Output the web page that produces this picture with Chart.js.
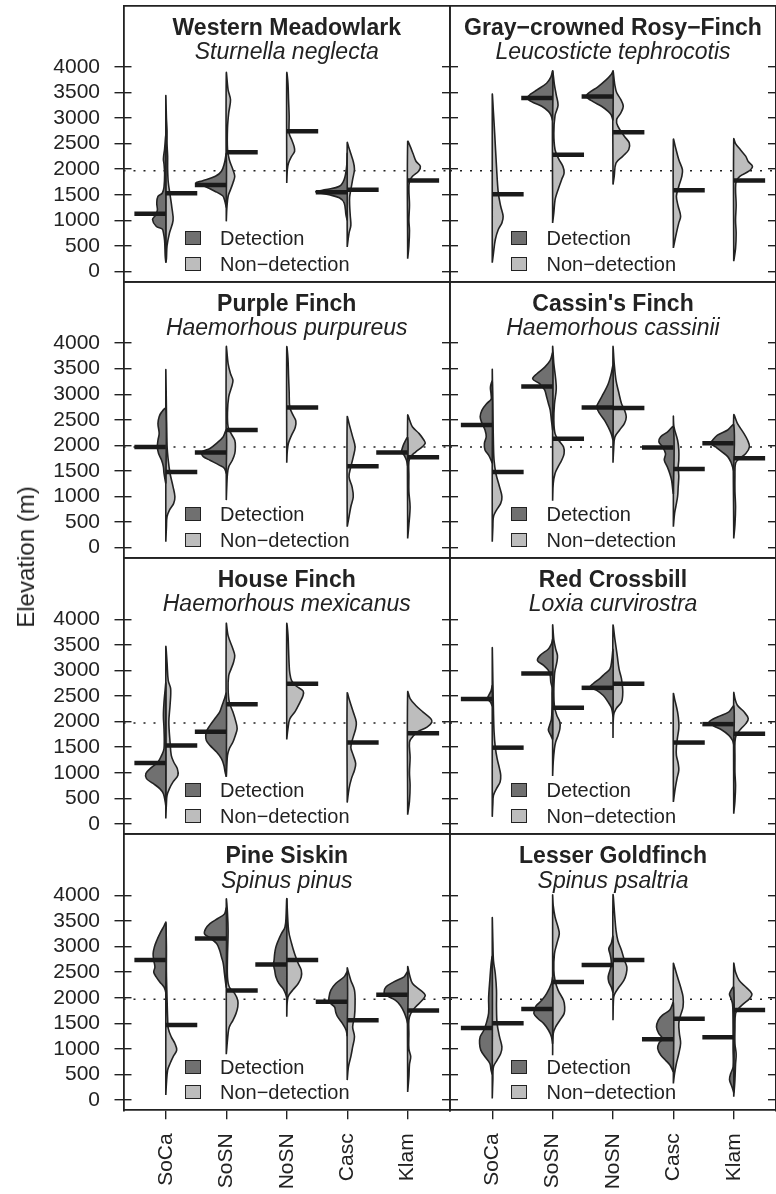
<!DOCTYPE html>
<html>
<head>
<meta charset="utf-8">
<script src="https://cdn.jsdelivr.net/npm/chart.js"></script>
<style>
  html, body { margin: 0; padding: 0; background: #fff; }
  #fig { position: relative; width: 776px; height: 1194px; overflow: hidden;
         font-family: 'Liberation Sans', Arial, Helvetica, sans-serif; color: #222; }
  #fig canvas { position: absolute; left: 0; top: 0; }
  .txt { position: absolute; white-space: nowrap; }
  .ttl { font-weight: bold; font-size: 23px; line-height: 23px; text-align: center; }
  .sub { font-style: italic; font-size: 23px; line-height: 23px; text-align: center; }
  .leg { font-size: 20px; line-height: 20px; }
  .sw  { position: absolute; width: 16px; height: 14px; box-sizing: border-box; border: 1.5px solid #222; }
  #ytitle { font-size: 24px; line-height: 24px; transform: translate(-50%, -50%) rotate(-90deg); }
</style>
</head>
<body>
<div id="fig"></div>
<script>
// ---- data -------------------------------------------------------------
const sites = ['SoCa', 'SoSN', 'NoSN', 'Casc', 'Klam'];
const commonNames = ['Western Meadowlark', 'Gray\u2212crowned Rosy\u2212Finch', 'Purple Finch', "Cassin's Finch",
                     'House Finch', 'Red Crossbill', 'Pine Siskin', 'Lesser Goldfinch'];
const latinNames = ['Sturnella neglecta', 'Leucosticte tephrocotis', 'Haemorhous purpureus', 'Haemorhous cassinii',
                    'Haemorhous mexicanus', 'Loxia curvirostra', 'Spinus pinus', 'Spinus psaltria'];
const elevationTicks = [0, 500, 1000, 1500, 2000, 2500, 3000, 3500, 4000];
const referenceElevation = 1970;
const legendLabels = ['Detection', 'Non\u2212detection'];

// median elevation (m) per site, detections / non-detections
const detectionMedians = [
  [1130, 1690, null, 1550, null],
  [null, 3390, 3420, null, null],
  [1970, 1860, null, null, 1860],
  [2400, 3150, 2740, 1960, 2040],
  [1190, 1800, null, null, null],
  [2440, 2940, 2660, null, 1950],
  [2740, 3160, 2650, 1920, 2060],
  [1410, 1780, 2640, 1190, 1230]
];
const nonDetectionMedians = [
  [1530, 2330, 2740, 1600, 1780],
  [1510, 2280, 2720, 1590, 1780],
  [1480, 2300, 2740, 1590, 1770],
  [1480, 2130, 2730, 1540, 1750],
  [1530, 2340, 2740, 1590, 1770],
  [1490, 2270, 2740, 1590, 1760],
  [1470, 2140, 2740, 1560, 1750],
  [1500, 2310, 2740, 1590, 1760]
];

// density profiles: [elevation (m), density] per site (SoCa, SoSN, NoSN, Casc, Klam)
const wemeDet = [
  [[180,0],[300,1],[600,2],[760,4],[830,6],[885,16],[1015,22],[1100,17],[1200,14],[1340,15],[1470,13],[1530,6],[1650,3],[1900,2],[2100,3],[2200,4],[2400,2],[2650,0]],
  [[1250,0],[1400,3],[1480,6],[1570,19],[1665,36],[1730,50],[1770,40],[1860,18],[1960,8],[2120,3],[2300,0]],
  null,
  [[1000,0],[1100,2],[1340,5],[1440,13],[1500,30],[1555,52],[1600,35],[1665,13],[1800,5],[2050,1],[2300,0]],
  null
];
const wemeNon = [
  [[170,0],[250,1],[500,2],[750,6],[1000,12],[1250,10],[1500,7],[1750,4],[2000,3],[2250,3],[2500,2],[2750,2],[3000,1],[3420,0]],
  [[980,0],[1250,1],[1470,3],[1600,7],[1730,11],[1860,14],[1990,11],[2185,5],[2400,2],[2800,2],[3100,4],[3356,7],[3550,3],[3876,0]],
  [[1730,0],[1990,1],[2120,3],[2250,8],[2350,13],[2450,12],[2580,8],[2700,4],[3030,4],[3350,3],[3680,2],[3880,0]],
  [[480,0],[750,3],[900,6],[1100,5],[1300,4],[1450,4],[1600,6],[1800,9],[2000,12],[2150,10],[2300,6],[2450,2],[2520,0]],
  [[250,0],[500,2],[800,3],[1000,2],[1300,3],[1600,2],[1760,3],[1860,8],[1960,18],[2055,21],[2150,14],[2300,9],[2450,4],[2540,0]]
];
const gcrfDet = [
  null,
  [[2950,0],[3060,3],[3130,7],[3230,18],[3320,35],[3400,42],[3470,36],[3550,26],[3680,10],[3800,3],[3910,0]],
  [[2950,0],[3060,3],[3130,8],[3230,19],[3320,33],[3420,44],[3490,40],[3610,25],[3750,11],[3850,3],[3910,0]],
  null,
  null
];
const gcrfNon = [
  [[170,0],[360,2],[620,5],[820,10],[950,16],[1080,18],[1275,14],[1535,10],[2055,7],[2700,4],[3100,2],[3450,0]],
  [[950,0],[1150,2],[1400,4],[1530,7],[1665,11],[1800,15],[1925,19],[2055,17],[2200,10],[2380,4],[2700,2],[3050,4],[3250,9],[3450,6],[3650,3],[3910,0]],
  [[1700,0],[1860,2],[2120,5],[2250,16],[2380,26],[2510,27],[2640,19],[2840,8],[2970,6],[3100,13],[3230,17],[3360,13],[3500,6],[3650,3],[3910,0]],
  [[460,0],[750,5],[950,9],[1080,12],[1275,8],[1470,5],[1665,9],[1860,14],[1990,15],[2185,9],[2450,3],[2580,0]],
  [[200,0],[450,3],[750,4],[1000,3],[1300,4],[1600,3],[1760,4],[1860,10],[1960,25],[2055,31],[2150,24],[2250,20],[2380,11],[2500,3],[2590,0]]
];
const pufiDet = [
  [[1250,0],[1450,3],[1580,4],[1710,7],[1840,12],[1970,14],[2100,13],[2230,11],[2430,13],[2560,11],[2650,7],[2720,0]],
  [[1450,0],[1550,3],[1610,11],[1710,27],[1780,38],[1870,41],[1940,27],[2040,16],[2170,5],[2300,0]],
  null,
  null,
  [[1600,0],[1710,2],[1810,6],[1880,10],[1940,9],[2040,6],[2150,0]]
];
const pufiNon = [
  [[117,0],[400,1],[605,2],[735,6],[865,13],[995,15],[1190,12],[1450,7],[1710,4],[2000,2],[2700,1],[3454,0]],
  [[930,0],[1250,1],[1450,2],[1580,4],[1710,10],[1840,14],[1970,15],[2100,14],[2230,8],[2360,3],[2650,2],[2950,4],[3150,9],[3270,11],[3400,7],[3600,3],[3920,0]],
  [[1660,0],[1900,1],[2050,3],[2200,8],[2350,14],[2480,15],[2600,10],[2750,5],[3050,4],[3350,3],[3700,2],[3920,0]],
  [[410,0],[540,2],[800,6],[995,10],[1190,8],[1385,3],[1580,6],[1776,10],[1971,13],[2166,9],[2426,3],[2556,0]],
  [[180,0],[450,2],[800,4],[1100,2],[1400,2],[1680,2],[1780,5],[1870,13],[1970,24],[2040,29],[2100,27],[2230,19],[2360,8],[2500,3],[2590,0]]
];
const cafiDet = [
  [[1650,0],[1710,2],[1810,6],[1910,12],[2040,13],[2170,10],[2300,12],[2430,17],[2560,20],[2690,17],[2820,9],[2900,2],[3000,2],[3140,3],[3250,0]],
  [[2300,0],[2490,2],[2690,4],[2820,7],[2950,10],[3080,13],[3150,18],[3210,22],[3300,33],[3400,26],[3530,13],[3660,4],[3800,0]],
  [[2100,0],[2230,3],[2360,8],[2490,14],[2620,22],[2750,27],[2880,22],[3010,16],[3200,8],[3400,3],[3550,0]],
  [[1050,0],[1130,1],[1320,3],[1450,6],[1580,10],[1710,15],[1840,13],[1970,18],[2070,24],[2170,21],[2260,10],[2360,0]],
  [[1500,0],[1580,2],[1680,5],[1780,10],[1870,19],[1970,30],[2040,38],[2100,35],[2200,27],[2300,10],[2400,0]]
];
const cafiNon = [
  [[117,0],[400,1],[605,2],[735,7],[865,14],[995,16],[1190,12],[1450,6],[1710,3],[2000,2],[2700,1],[3460,0]],
  [[917,0],[1250,1],[1450,4],[1580,9],[1710,15],[1840,19],[1970,18],[2100,10],[2230,4],[2500,2],[2800,3],[3100,6],[3300,5],[3600,2],[3920,0]],
  [[1660,0],[1900,1],[2160,3],[2300,11],[2430,19],[2560,22],[2690,19],[2820,14],[3010,10],[3270,5],[3600,2],[3920,0]],
  [[410,0],[670,2],[800,4],[1000,7],[1190,8],[1390,9],[1580,8],[1710,9],[1910,9],[2100,7],[2360,1],[2560,0]],
  [[180,0],[450,2],[800,3],[1100,2],[1400,2],[1650,3],[1740,9],[1840,20],[1970,26],[2100,23],[2230,17],[2430,6],[2590,0]]
];
const hofiDet = [
  [[350,0],[430,1],[590,4],[690,10],[790,21],[885,32],[985,33],[1080,26],[1210,13],[1340,7],[1470,3],[1860,3],[2120,4],[2380,3],[2640,1],[2750,0]],
  [[920,0],[1015,2],[1145,4],[1275,8],[1405,16],[1535,27],[1630,33],[1730,34],[1830,32],[1925,27],[2055,19],[2185,11],[2315,7],[2445,3],[2550,0]],
  null,
  null,
  null
];
const hofiNon = [
  [[104,0],[400,1],[560,2],[690,6],[820,12],[950,20],[1080,19],[1210,13],[1340,9],[1600,7],[1990,5],[2320,7],[2640,8],[2800,4],[3160,2],[3454,0]],
  [[920,0],[1340,2],[1470,5],[1600,11],[1730,15],[1860,18],[1990,16],[2185,11],[2380,5],[2640,3],[2900,4],[3030,8],[3160,12],[3290,14],[3420,11],[3680,3],[3910,0]],
  [[1650,0],[1860,2],[2050,5],[2200,14],[2380,22],[2510,27],[2600,27],[2700,15],[2800,8],[2950,5],[3100,4],[3400,3],[3700,2],[3910,0]],
  [[416,0],[690,3],[885,7],[1050,12],[1180,14],[1340,10],[1500,6],[1700,10],[1860,14],[1990,15],[2185,10],[2445,3],[2556,0]],
  [[180,0],[450,3],[750,4],[1000,3],[1300,4],[1600,3],[1700,8],[1800,16],[1890,32],[1990,40],[2060,38],[2190,25],[2320,13],[2450,4],[2580,0]]
];
const recrDet = [
  [[2300,0],[2380,3],[2445,8],[2510,6],[2600,2],[2700,0]],
  [[1650,0],[1730,3],[1830,7],[1930,5],[2050,2],[2300,1],[2550,1],[2670,1],[2770,3],[2900,4],[3000,7],[3100,15],[3190,25],[3290,21],[3420,7],[3520,2],[3600,0]],
  [[2100,0],[2185,1],[2280,3],[2380,8],[2510,16],[2610,27],[2670,38],[2740,33],[2840,22],[2930,14],[3030,5],[3200,2],[3400,0]],
  null,
  [[1550,0],[1630,2],[1730,8],[1830,19],[1925,35],[1990,41],[2090,27],[2190,8],[2300,0]]
];
const recrNon = [
  [[137,0],[400,1],[560,2],[690,7],[820,13],[950,14],[1080,12],[1280,8],[1500,5],[1800,3],[2200,2],[2800,1],[3420,0]],
  [[937,0],[1210,1],[1470,3],[1600,5],[1730,9],[1860,12],[1990,12],[2120,7],[2300,3],[2600,2],[2900,3],[3000,4],[3160,7],[3290,8],[3420,5],[3600,2],[3876,0]],
  [[1680,0],[2120,1],[2250,5],[2380,14],[2510,16],[2640,16],[2840,14],[3030,10],[3290,7],[3620,3],[3876,0]],
  [[430,0],[690,3],[885,6],[1050,9],[1180,8],[1340,5],[1500,5],[1700,7],[1860,9],[1990,9],[2185,7],[2445,2],[2543,0]],
  [[200,0],[450,2],[750,3],[1000,2],[1300,2],[1600,2],[1730,4],[1860,12],[1960,20],[2060,24],[2190,17],[2320,6],[2450,2],[2563,0]]
];
const pisiDet = [
  [[2100,0],[2150,1],[2210,3],[2310,10],[2410,16],[2500,20],[2600,18],[2730,20],[2860,21],[2990,19],[3120,15],[3250,10],[3380,4],[3460,0]],
  [[2200,0],[2280,1],[2470,3],[2670,5],[2800,8],[2930,11],[3060,16],[3170,27],[3250,36],[3350,34],[3450,27],[3550,14],[3640,3],[3750,0]],
  [[2000,0],[2080,2],[2180,6],[2280,13],[2410,18],[2540,20],[2650,22],[2730,21],[2860,20],[2990,18],[3120,14],[3250,9],[3380,3],[3600,1],[3920,0]],
  [[1250,0],[1370,2],[1500,8],[1630,16],[1720,19],[1820,21],[1920,30],[2020,30],[2150,27],[2280,19],[2410,5],[2500,0]],
  [[1500,0],[1590,2],[1720,6],[1850,12],[1950,20],[2050,36],[2110,39],[2210,36],[2310,23],[2410,6],[2500,0]]
];
const pisiNon = [
  [[98,0],[325,1],[585,3],[715,7],[846,12],[976,18],[1106,15],[1236,9],[1400,4],[1600,3],[2000,2],[2500,1],[3000,1],[3460,0]],
  [[898,0],[1300,3],[1430,5],[1560,11],[1690,16],[1820,19],[1950,19],[2080,14],[2210,5],[2400,2],[2800,2],[3300,3],[3650,2],[3920,0]],
  [[1630,0],[2016,2],[2150,10],[2280,19],[2410,24],[2540,24],[2670,19],[2860,13],[3060,8],[3320,3],[3920,0]],
  [[390,0],[650,2],[850,6],[1040,9],[1240,12],[1430,9],[1630,12],[1890,13],[2150,12],[2340,6],[2500,2],[2580,0]],
  [[160,0],[450,2],[700,3],[850,5],[1000,2],[1300,2],[1560,2],[1690,5],[1820,13],[1950,24],[2050,29],[2150,21],[2280,8],[2450,3],[2600,0]]
];
const legoDet = [
  [[500,0],[585,2],[715,4],[846,12],[976,19],[1106,21],[1236,20],[1366,14],[1500,10],[1700,6],[2000,6],[2350,4],[2650,2],[2800,0]],
  [[1100,0],[1240,2],[1370,7],[1500,15],[1590,24],[1690,31],[1790,29],[1850,27],[1950,18],[2080,10],[2280,2],[2400,0]],
  [[2100,0],[2210,3],[2310,7],[2410,8],[2540,5],[2630,3],[2730,3],[2860,5],[2960,7],[3060,3],[3200,0]],
  [[550,0],[600,2],[690,6],[780,13],[880,21],[1010,26],[1110,24],[1200,18],[1300,24],[1430,28],[1560,25],[1660,18],[1760,6],[1900,0]],
  [[150,0],[260,3],[400,7],[520,5],[650,1],[1000,1],[1500,1],[1880,2],[2000,5],[2080,7],[2200,0]]
];
const legoNon = [
  [[33,0],[400,1],[650,2],[780,8],[910,14],[1040,16],[1240,12],[1500,8],[1820,7],[2150,7],[2470,5],[2730,2],[3100,1],[3545,0]],
  [[878,0],[1300,1],[1430,5],[1560,12],[1690,19],[1820,20],[1950,18],[2150,9],[2340,4],[2540,2],[2860,3],[3060,7],[3250,11],[3380,9],[3580,4],[3800,1],[4000,0]],
  [[1560,0],[2000,1],[2080,3],[2210,10],[2340,18],[2470,22],[2600,23],[2730,19],[2930,14],[3120,8],[3320,5],[3580,3],[4000,0]],
  [[325,0],[520,2],[715,5],[910,9],[1110,12],[1300,10],[1500,9],[1660,12],[1820,16],[2020,16],[2210,12],[2400,7],[2600,2],[2670,0]],
  [[65,0],[400,2],[700,3],[900,4],[1100,2],[1400,2],[1690,3],[1790,8],[1890,17],[1980,26],[2080,30],[2210,20],[2340,9],[2500,3],[2667,0]]
];

const detectionProfiles = [wemeDet, gcrfDet, pufiDet, cafiDet, hofiDet, recrDet, pisiDet, legoDet];
const nonDetectionProfiles = [wemeNon, gcrfNon, pufiNon, cafiNon, hofiNon, recrNon, pisiNon, legoNon];

// ---- layout & style ---------------------------------------------------
const FIG_W = 776, FIG_H = 1194;
const COLS = [[123.5, 450], [450, 776]];
const ROW_TOP = 5.5, ROW_H = 276.2;
const X_MIN = 0.3, X_MAX = 5.7, Y_MIN = -200, Y_MAX = 5200;
const DENSITY_TO_X = 0.01;     // density unit -> category-axis units
const BAR_LEN = 0.52;          // median bar length, category units
const INK = '#222222';
const DET_FILL = '#707070';
const NON_FILL = '#bdbdbd';
const FONT = "'Liberation Sans', Arial, Helvetica, sans-serif";

Chart.defaults.font.family = FONT;
Chart.defaults.color = INK;

const fig = document.getElementById('fig');

function addText(cls, text, left, top, width) {
  const d = document.createElement('div');
  d.className = 'txt ' + cls;
  d.textContent = text;
  d.style.left = left + 'px';
  d.style.top = top + 'px';
  if (width) d.style.width = width + 'px';
  fig.appendChild(d);
  return d;
}

// half violin outline: out along the profile, back down the centre line
function halfViolin(profile, site, side) {
  const pts = profile.map(([e, w]) => ({ x: site + side * w * DENSITY_TO_X, y: e }));
  pts.push({ x: site, y: profile[0][0] });
  return pts;
}

function clearPad(s) { s.paddingTop = s.paddingBottom = s.paddingLeft = s.paddingRight = 0; }
const fixWidth = w => s => { s.width = w; clearPad(s); };
const fixHeight = h => s => { s.height = h; clearPad(s); };
function elevTicks(s) { s.ticks = elevationTicks.map(v => ({ value: v })); }
function siteTicks(s) { s.ticks = sites.map((_, i) => ({ value: i + 1 })); }

for (let p = 0; p < 8; p++) {
  const col = p % 2, row = Math.floor(p / 2);
  const left = COLS[col][0], right = COLS[col][1];
  const top = ROW_TOP + row * ROW_H, bottom = top + ROW_H;
  const isBottom = row === 3, isLeft = col === 0;
  const xAxisH = isBottom ? FIG_H - bottom : 0;
  const yLabelW = isLeft ? left : 0;

  const datasets = [];
  datasets.push({
    data: [{ x: X_MIN, y: referenceElevation }, { x: X_MAX, y: referenceElevation }],
    borderColor: INK, borderWidth: 1.5, borderDash: [2, 8], fill: false, tension: 0, order: 5
  });
  for (let s = 0; s < sites.length; s++) {
    const site = s + 1;
    const non = nonDetectionProfiles[p][s], det = detectionProfiles[p][s];
    if (non) datasets.push({
      data: halfViolin(non, site, 1), backgroundColor: NON_FILL, borderColor: INK,
      borderWidth: 1.6, fill: 'shape', tension: 0.35, order: 4
    });
    if (det) datasets.push({
      data: halfViolin(det, site, -1), backgroundColor: DET_FILL, borderColor: INK,
      borderWidth: 1.6, fill: 'shape', tension: 0.35, order: 3
    });
    const dm = detectionMedians[p][s], nm = nonDetectionMedians[p][s];
    if (dm != null) datasets.push({
      data: [{ x: site - BAR_LEN, y: dm }, { x: site, y: dm }],
      borderColor: '#1a1a1a', borderWidth: 4.5, borderCapStyle: 'butt', fill: false, tension: 0, order: 1
    });
    if (nm != null) datasets.push({
      data: [{ x: site, y: nm }, { x: site + BAR_LEN, y: nm }],
      borderColor: '#1a1a1a', borderWidth: 4.5, borderCapStyle: 'butt', fill: false, tension: 0, order: 1
    });
  }

  const tickGrid = len => ({ drawOnChartArea: false, drawTicks: true, tickLength: len,
                             color: INK, tickColor: INK, lineWidth: 1.4, tickWidth: 1.4 });
  const edge = { display: true, color: INK, width: 1.8 };

  const scales = {
    x: {
      type: 'linear', position: 'bottom', min: X_MIN, max: X_MAX,
      afterBuildTicks: siteTicks, afterFit: fixHeight(xAxisH),
      grid: Object.assign(tickGrid(9), { drawTicks: isBottom }),
      border: edge,
      ticks: { display: isBottom, autoSkip: false, minRotation: 90, maxRotation: 90, padding: 14,
               font: { size: 21 }, color: INK, callback: v => sites[v - 1] }
    },
    xTop: {
      type: 'linear', position: 'top', min: X_MIN, max: X_MAX, afterFit: fixHeight(0),
      grid: { display: false }, border: edge, ticks: { display: false }
    },
    y: {
      type: 'linear', position: 'left', weight: 0, min: Y_MIN, max: Y_MAX,
      afterBuildTicks: elevTicks, afterFit: fixWidth(0),
      grid: tickGrid(-8), border: edge, ticks: { display: false }
    },
    yRight: {
      type: 'linear', position: 'right', min: Y_MIN, max: Y_MAX,
      afterBuildTicks: elevTicks, afterFit: fixWidth(0),
      grid: tickGrid(-8), border: edge, ticks: { display: false }
    }
  };
  if (isLeft) {
    scales.yLabels = {
      type: 'linear', position: 'left', weight: 1, min: Y_MIN, max: Y_MAX,
      afterBuildTicks: elevTicks, afterFit: fixWidth(yLabelW),
      grid: tickGrid(9), border: { display: false },
      ticks: { display: true, padding: 14.5, font: { size: 21 }, color: INK, callback: v => String(v) }
    };
  }

  const canvas = document.createElement('canvas');
  canvas.width = FIG_W; canvas.height = FIG_H;
  canvas.style.width = FIG_W + 'px'; canvas.style.height = FIG_H + 'px';
  fig.appendChild(canvas);

  new Chart(canvas, {
    type: 'line',
    data: { datasets },
    options: {
      responsive: false, animation: false, devicePixelRatio: 1, events: [],
      layout: { padding: { left: left - yLabelW, top: top, right: FIG_W - right, bottom: FIG_H - bottom - xAxisH } },
      elements: { point: { radius: 0 } },
      plugins: { legend: { display: false }, tooltip: { enabled: false }, title: { display: false } },
      scales
    }
  });

  // panel heading and key
  const w = right - left;
  addText('ttl', commonNames[p], left, top + 10, w);
  addText('sub', latinNames[p], left, top + 34.5, w);
  const sw1 = document.createElement('div');
  sw1.className = 'sw'; sw1.style.background = DET_FILL;
  sw1.style.left = (left + 61) + 'px'; sw1.style.top = (top + 225.5) + 'px';
  fig.appendChild(sw1);
  const sw2 = document.createElement('div');
  sw2.className = 'sw'; sw2.style.background = NON_FILL;
  sw2.style.left = (left + 61) + 'px'; sw2.style.top = (top + 251) + 'px';
  fig.appendChild(sw2);
  addText('leg', legendLabels[0], left + 96.5, top + 239.5 - 17);
  addText('leg', legendLabels[1], left + 96.5, top + 265 - 17);
}

const yt = addText('', 'Elevation (m)', 26, 557);
yt.id = 'ytitle';
</script>
</body>
</html>
